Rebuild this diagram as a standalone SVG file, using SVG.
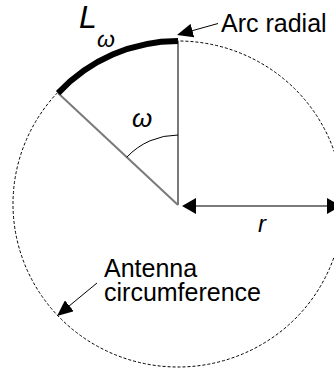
<svg xmlns="http://www.w3.org/2000/svg" width="334" height="372" viewBox="0 0 334 372">
<style>
.lbl{font-family:"Liberation Sans",Arial,sans-serif;font-size:25px;fill:#000}
.it{font-style:italic}
.gray{stroke:#7a7a7a;stroke-width:2;fill:none}
.thin{stroke:#000;stroke-width:1;fill:none}
</style>
<defs>
<marker id="ah" viewBox="0 0 14 16" refX="6" refY="8" markerWidth="14" markerHeight="16" markerUnits="userSpaceOnUse" orient="auto-start-reverse">
<path d="M0,0 L14,8 L0,16 Z" fill="#000"/>
</marker>
<marker id="ah2" viewBox="0 0 16 14" refX="8" refY="7" markerWidth="16" markerHeight="14" markerUnits="userSpaceOnUse" orient="auto">
<path d="M0,0 L16,7 L0,14 Z" fill="#000"/>
</marker>
</defs>
<g id="circumference">
<ellipse cx="178" cy="204" rx="165" ry="163" fill="none" stroke="#000" stroke-width="1" stroke-dasharray="3,2"/>
</g>
<g id="sector">
<line class="gray" x1="178" y1="41" x2="178" y2="205"/>
<line class="gray" x1="58" y1="93" x2="178" y2="205"/>
<path d="M58.1,93.1 A164,164 0 0 1 178,41" fill="none" stroke="#000" stroke-width="6"/>
<path class="thin" d="M178,135 A70,70 0 0 0 126.8,157.2"/>
</g>
<g id="labels">
<text class="lbl it" x="79" y="28" style="font-size:32px">L</text>
<text class="lbl it" x="97" y="46.5" style="font-size:23px">ω</text>
<text class="lbl it" x="142" y="126.5" text-anchor="middle" style="font-size:26px">ω</text>
<text class="lbl it" x="258" y="232" style="font-size:24px">r</text>
<text class="lbl" x="221" y="31.5">Arc radial</text>
<text class="lbl" x="104" y="277">Antenna</text>
<text class="lbl" x="104" y="301">circumference</text>
</g>
<g id="connectors">
<line class="gray" x1="190" y1="206" x2="333" y2="206" marker-start="url(#ah)" marker-end="url(#ah)"/>
<line class="thin" x1="218" y1="23.5" x2="184.7" y2="32.8" marker-end="url(#ah2)"/>
<line class="thin" x1="97" y1="283" x2="63.2" y2="310.9" marker-end="url(#ah2)"/>
</g>
</svg>
